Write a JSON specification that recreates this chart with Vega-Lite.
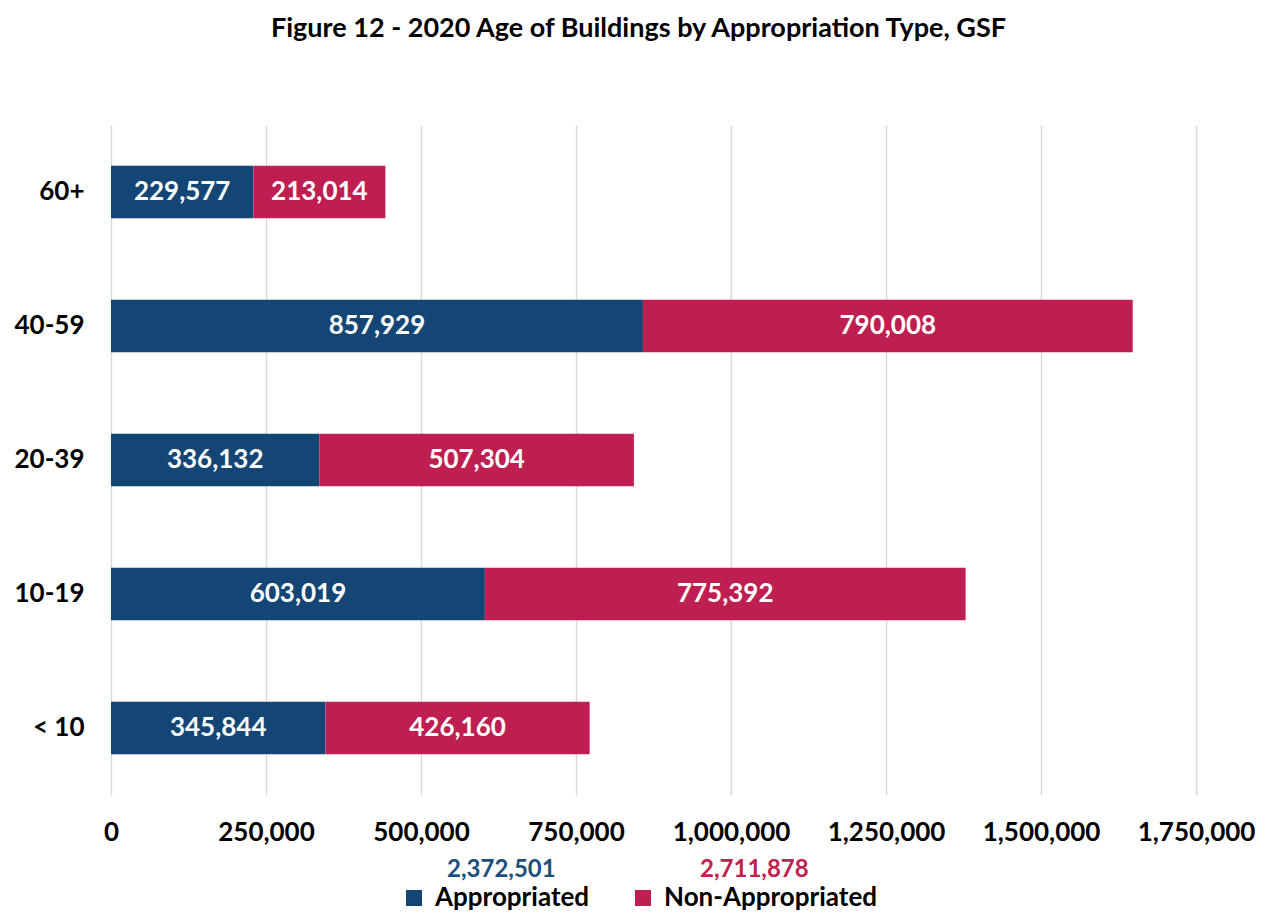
{
  "$schema": "https://vega.github.io/schema/vega-lite/v6.json",
  "width": 1085,
  "height": 670,
  "autosize": {"type": "none"},
  "padding": {"left": 111, "top": 125, "right": 71, "bottom": 120},
  "background": "white",
  "config": {"view": {"stroke": null}, "font": "Lato"},
  "title": {
    "text": "Figure 12 - 2020 Age of Buildings by Appropriation Type, GSF",
    "font": "Lato",
    "fontSize": 27,
    "fontWeight": "bold",
    "color": "black",
    "anchor": "middle",
    "frame": "group",
    "offset": 82,
    "dx": -15
  },
  "datasets": {
    "bars": [
      {"age": "60+", "type": "Appropriated", "gsf": 229577},
      {"age": "60+", "type": "Non-Appropriated", "gsf": 213014},
      {"age": "40-59", "type": "Appropriated", "gsf": 857929},
      {"age": "40-59", "type": "Non-Appropriated", "gsf": 790008},
      {"age": "20-39", "type": "Appropriated", "gsf": 336132},
      {"age": "20-39", "type": "Non-Appropriated", "gsf": 507304},
      {"age": "10-19", "type": "Appropriated", "gsf": 603019},
      {"age": "10-19", "type": "Non-Appropriated", "gsf": 775392},
      {"age": "< 10", "type": "Appropriated", "gsf": 345844},
      {"age": "< 10", "type": "Non-Appropriated", "gsf": 426160}
    ],
    "totals": [
      {"type": "Appropriated", "total": 2372501},
      {"type": "Non-Appropriated", "total": 2711878}
    ]
  },
  "layer": [
    {
      "data": {"name": "bars"},
      "transform": [
        {"stack": "gsf", "groupby": ["age"], "sort": [{"field": "type", "order": "ascending"}], "as": ["x0", "x1"]}
      ],
      "mark": {"type": "bar"},
      "encoding": {
        "y": {
          "field": "age",
          "type": "nominal",
          "sort": ["60+", "40-59", "20-39", "10-19", "< 10"],
          "scale": {"paddingInner": 0.61, "paddingOuter": 0.305},
          "axis": {
            "title": null,
            "domain": false,
            "ticks": false,
            "grid": false,
            "labelPadding": 27,
            "labelFont": "Lato",
            "labelFontSize": 26,
            "labelFontWeight": "bold",
            "labelColor": "black"
          }
        },
        "x": {
          "field": "x0",
          "type": "quantitative",
          "scale": {"domain": [0, 1750000], "nice": false},
          "axis": {
            "title": null,
            "values": [0, 250000, 500000, 750000, 1000000, 1250000, 1500000, 1750000],
            "format": ",d",
            "domain": false,
            "ticks": false,
            "grid": true,
            "gridColor": "#D9D9D9",
            "gridWidth": 1.5,
            "labelPadding": 24,
            "labelFont": "Lato",
            "labelFontSize": 26,
            "labelFontWeight": "bold",
            "labelColor": "black",
            "labelFlush": false,
            "labelOverlap": false
          }
        },
        "x2": {"field": "x1"},
        "color": {
          "field": "type",
          "type": "nominal",
          "scale": {"domain": ["Appropriated", "Non-Appropriated"], "range": ["#134675", "#BE1F50"]},
          "legend": {
            "orient": "none",
            "legendX": 290,
            "legendY": 760,
            "direction": "horizontal",
            "title": null,
            "symbolType": "square",
            "symbolSize": 256,
            "symbolStrokeWidth": 0,
            "labelFont": "Lato",
            "labelFontSize": 26,
            "labelFontWeight": "bold",
            "labelColor": "black",
            "labelLimit": 400,
            "labelOffset": 8,
            "columnPadding": 40,
            "padding": 0
          }
        }
      }
    },
    {
      "data": {"name": "bars"},
      "transform": [
        {"stack": "gsf", "groupby": ["age"], "sort": [{"field": "type", "order": "ascending"}], "as": ["x0", "x1"]},
        {"calculate": "(datum.x0 + datum.x1) / 2", "as": "mid"}
      ],
      "mark": {"type": "text", "color": "white", "font": "Lato", "fontSize": 26, "fontWeight": "bold", "align": "center", "baseline": "middle"},
      "encoding": {
        "y": {"field": "age", "type": "nominal", "sort": ["60+", "40-59", "20-39", "10-19", "< 10"]},
        "x": {"field": "mid", "type": "quantitative"},
        "text": {"field": "gsf", "type": "quantitative", "format": ","}
      }
    },
    {
      "data": {"name": "totals"},
      "transform": [{"filter": "datum.type === 'Appropriated'"}],
      "mark": {"type": "point", "opacity": 0, "size": 0},
      "encoding": {
        "shape": {
          "field": "total",
          "type": "nominal",
          "legend": {
            "orient": "none",
            "legendX": 312,
            "legendY": 733,
            "title": null,
            "symbolSize": 0,
            "symbolOpacity": 0,
            "symbolStrokeWidth": 0,
            "labelOffset": 0,
            "labelFont": "Lato",
            "labelFontSize": 24,
            "labelFontWeight": "bold",
            "labelColor": "#1B4F7E",
            "labelExpr": "format(datum.value, ',')",
            "padding": 0
          }
        }
      }
    },
    {
      "data": {"name": "totals"},
      "transform": [{"filter": "datum.type === 'Non-Appropriated'"}],
      "mark": {"type": "point", "opacity": 0, "size": 0},
      "encoding": {
        "strokeDash": {
          "field": "total",
          "type": "nominal",
          "legend": {
            "orient": "none",
            "legendX": 565,
            "legendY": 733,
            "title": null,
            "symbolSize": 0,
            "symbolOpacity": 0,
            "symbolStrokeWidth": 0,
            "labelOffset": 0,
            "labelFont": "Lato",
            "labelFontSize": 24,
            "labelFontWeight": "bold",
            "labelColor": "#C0214F",
            "labelExpr": "format(datum.value, ',')",
            "padding": 0
          }
        }
      }
    }
  ]
}
